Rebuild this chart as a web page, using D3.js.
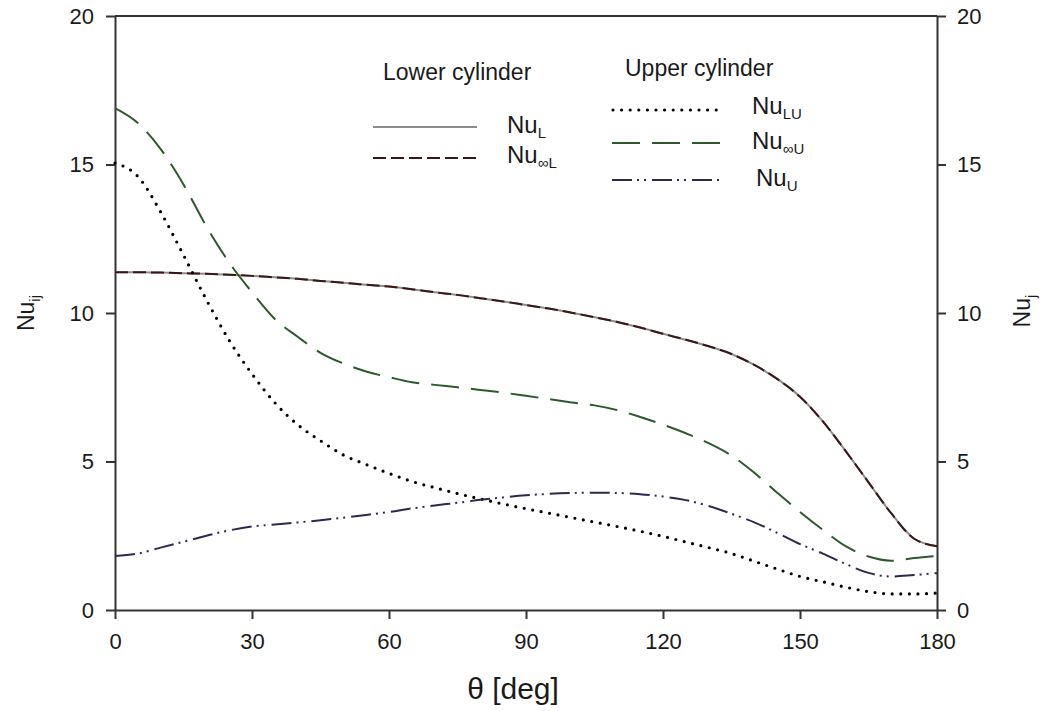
<!DOCTYPE html>
<html>
<head>
<meta charset="utf-8">
<script src="https://cdn.jsdelivr.net/npm/d3@7/dist/d3.min.js"></script>
<style>
  html, body { margin: 0; padding: 0; background: #fff; }
  text { font-family: "Liberation Sans", Arial, sans-serif; fill: #1a1a1a; }
</style>
</head>
<body>
<svg id="chart" width="1044" height="711"></svg>
<script>
// ---- data ----
const theta = [0,5,10,15,20,25,30,35,40,45,50,55,60,65,70,75,80,85,90,95,100,105,110,115,120,125,130,135,140,145,150,155,160,165,170,175,180];
const NuL = [11.37,11.37,11.36,11.34,11.32,11.29,11.25,11.2,11.15,11.08,11.02,10.95,10.89,10.8,10.7,10.61,10.5,10.39,10.27,10.15,10.01,9.86,9.7,9.51,9.3,9.1,8.88,8.62,8.25,7.78,7.18,6.35,5.35,4.3,3.25,2.4,2.15];
const NuInfL = [11.37,11.37,11.36,11.34,11.32,11.29,11.25,11.2,11.15,11.08,11.02,10.95,10.89,10.8,10.7,10.61,10.5,10.39,10.27,10.15,10.01,9.86,9.7,9.51,9.3,9.1,8.88,8.62,8.25,7.78,7.18,6.35,5.35,4.3,3.25,2.4,2.15];
const NuLU = [15.05,14.6,13.4,11.95,10.45,9.08,7.95,6.98,6.24,5.7,5.22,4.9,4.6,4.33,4.12,3.92,3.74,3.57,3.41,3.26,3.11,2.96,2.81,2.65,2.48,2.29,2.1,1.9,1.64,1.38,1.13,0.95,0.77,0.62,0.54,0.54,0.57];
const NuInfU = [16.9,16.4,15.52,14.33,12.92,11.7,10.7,9.8,9.2,8.66,8.3,8.03,7.84,7.67,7.58,7.5,7.41,7.32,7.21,7.1,6.99,6.89,6.73,6.5,6.24,5.95,5.62,5.2,4.62,3.95,3.3,2.7,2.15,1.8,1.66,1.75,1.82];
const NuU = [1.82,1.9,2.1,2.3,2.5,2.68,2.81,2.88,2.95,3.02,3.11,3.2,3.3,3.42,3.52,3.61,3.71,3.79,3.86,3.91,3.94,3.95,3.94,3.9,3.82,3.7,3.5,3.24,2.95,2.6,2.22,1.9,1.55,1.25,1.13,1.18,1.24];
const xTicks = [0,30,60,90,120,150,180];
const yTicks = [0,5,10,15,20];

// ---- layout ----
const svg = d3.select("#chart");
const L = 115, R = 937, T = 16, B = 610;
const x = d3.scaleLinear().domain([0,180]).range([L,R]);
const y = d3.scaleLinear().domain([0,20]).range([B,T]);
const axisColor = "#333";

function styleAxis(g) {
  g.selectAll("path").attr("stroke", axisColor).attr("stroke-width", 2);
  g.selectAll("line").attr("stroke", axisColor).attr("stroke-width", 2);
  g.selectAll("text").attr("font-size", 22).attr("font-family", "Liberation Sans, Arial, sans-serif").attr("fill", "#1a1a1a");
}

// bottom axis
svg.append("g").attr("transform", `translate(0,${B})`)
  .call(d3.axisBottom(x).tickValues(xTicks).tickSize(9).tickPadding(14).tickSizeOuter(0))
  .call(styleAxis);
// left axis
svg.append("g").attr("transform", `translate(${L},0)`)
  .call(d3.axisLeft(y).tickValues(yTicks).tickSize(9).tickPadding(12).tickSizeOuter(0))
  .call(styleAxis);
// right axis
svg.append("g").attr("transform", `translate(${R},0)`)
  .call(d3.axisRight(y).tickValues(yTicks).tickSize(9).tickPadding(11).tickSizeOuter(0))
  .call(styleAxis);
// top border
svg.append("line").attr("x1", L).attr("x2", R).attr("y1", T).attr("y2", T)
  .attr("stroke", axisColor).attr("stroke-width", 2);

// ---- series ----
const series = [
  {name: "NuL", vals: NuL, color: "#8c8c8c", width: 2, dash: null, cap: "butt"},
  {name: "NuInfL", vals: NuInfL, color: "#3a1616", width: 2, dash: "13,5", cap: "butt"},
  {name: "NuLU", vals: NuLU, color: "#000000", width: 3.2, dash: "0,8.6", cap: "round"},
  {name: "NuInfU", vals: NuInfU, color: "#2c5a2c", width: 2, dash: "28,12", cap: "butt"},
  {name: "NuU", vals: NuU, color: "#2a2a4e", width: 2, dash: "20,5,2,5,2,6", cap: "butt"}
];
const line = d3.line().x((d,i) => x(theta[i])).y(d => y(d)).curve(d3.curveMonotoneX);
const plot = svg.append("g");
series.forEach(s => {
  plot.append("path").datum(s.vals)
    .attr("d", line)
    .attr("fill", "none")
    .attr("stroke", s.color)
    .attr("stroke-width", s.width)
    .attr("stroke-linecap", s.cap)
    .attr("stroke-dasharray", s.dash);
});

// ---- legend ----
const leg = svg.append("g");
leg.append("text").attr("x", 383).attr("y", 80).attr("font-size", 23).text("Lower cylinder");
leg.append("text").attr("x", 625).attr("y", 76).attr("font-size", 23).text("Upper cylinder");

const legendItems = [
  {s: series[0], x1: 373, x2: 477, ly: 127, tx: 507, ty: 133, main: "Nu", sub: "L"},
  {s: series[1], x1: 373, x2: 478, ly: 158, tx: 507, ty: 163, main: "Nu", sub: "\u221EL"},
  {s: series[2], x1: 613, x2: 722, ly: 110, tx: 752, ty: 114, main: "Nu", sub: "LU"},
  {s: series[3], x1: 612, x2: 724, ly: 143, tx: 752, ty: 149, main: "Nu", sub: "\u221EU"},
  {s: series[4], x1: 612, x2: 722, ly: 180, tx: 756, ty: 186, main: "Nu", sub: "U"}
];
legendItems.forEach(it => {
  leg.append("line").attr("x1", it.x1).attr("x2", it.x2).attr("y1", it.ly).attr("y2", it.ly)
    .attr("stroke", it.s.color).attr("stroke-width", it.s.width)
    .attr("stroke-linecap", it.s.cap).attr("stroke-dasharray", it.s.dash);
  const t = leg.append("text").attr("x", it.tx).attr("y", it.ty).attr("font-size", 24);
  t.append("tspan").text(it.main);
  t.append("tspan").attr("dy", 5).attr("font-size", 15).text(it.sub);
});

// ---- axis titles ----
const xt = svg.append("text").attr("x", 513).attr("y", 699).attr("text-anchor", "middle").attr("font-size", 30);
xt.append("tspan").text("\u03B8 [deg]");

const yl = svg.append("text").attr("transform", "translate(34,313) rotate(-90)")
  .attr("text-anchor", "middle").attr("font-size", 23);
yl.append("tspan").text("Nu");
yl.append("tspan").attr("dy", 6).attr("font-size", 15).text("ij");

const yr = svg.append("text").attr("transform", "translate(1030,311) rotate(-90)")
  .attr("text-anchor", "middle").attr("font-size", 23);
yr.append("tspan").text("Nu");
yr.append("tspan").attr("dy", 6).attr("font-size", 15).text("j");
</script>
</body>
</html>
